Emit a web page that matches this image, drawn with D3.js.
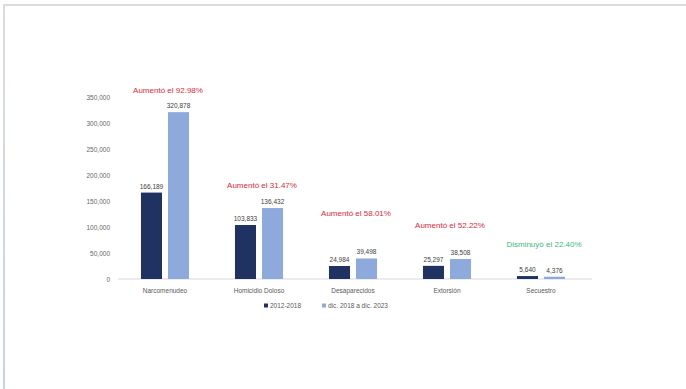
<!DOCTYPE html>
<html>
<head>
<meta charset="utf-8">
<script src="https://cdn.jsdelivr.net/npm/d3@7"></script>
<style>
  body { margin: 0; background: #fff; }
  svg { display: block; font-family: 'Liberation Sans', Arial, sans-serif; }
</style>
</head>
<body>
<div id="wrapper"></div>
<script>
const categories = ['Narcomenudeo', 'Homicidio Doloso', 'Desaparecidos', 'Extorsión', 'Secuestro']
const series = ['2012-2018', 'dic. 2018 a dic. 2023']
const values2012 = [166189, 103833, 24984, 25297, 5640]
const values2018 = [320878, 136432, 39498, 38508, 4376]
const changeLabels = ['Aumentó el 92.98%', 'Aumentó el 31.47%', 'Aumentó el 58.01%', 'Aumentó el 52.22%', 'Disminuyó el 22.40%']
const changeUp = [true, true, true, true, false]
const changeLevel = [363000, 181000, 127000, 104000, 67000]
const yTicks = [0, 50000, 100000, 150000, 200000, 250000, 300000, 350000]

function drawBars() {
  const dataset = categories.map((c, i) => ({
    category: c,
    values: [values2012[i], values2018[i]],
    change: changeLabels[i],
    up: changeUp[i],
    level: changeLevel[i],
  }))

  const dimensions = {
    width: 686,
    height: 389,
    margin: { top: 97, right: 98, bottom: 110, left: 118 },
  }
  dimensions.boundedWidth = dimensions.width - dimensions.margin.left - dimensions.margin.right
  dimensions.boundedHeight = dimensions.height - dimensions.margin.top - dimensions.margin.bottom

  const colors = ['#1f3262', '#8eaadc']

  const wrapper = d3.select('#wrapper')
    .append('svg')
    .attr('width', dimensions.width)
    .attr('height', dimensions.height)

  // frame
  const grad = wrapper.append('defs').append('linearGradient')
    .attr('id', 'edge').attr('x1', 0).attr('y1', 0).attr('x2', 0).attr('y2', 1)
  grad.append('stop').attr('offset', '0%').attr('stop-color', '#dcdcdc')
  grad.append('stop').attr('offset', '100%').attr('stop-color', '#c4d3f2')
  wrapper.append('line')
    .attr('x1', 3).attr('x2', 686).attr('y1', 5).attr('y2', 5)
    .attr('stroke', '#dcdcdc').attr('stroke-width', 2)
  wrapper.append('rect')
    .attr('x', 3).attr('y', 4).attr('width', 2).attr('height', 385)
    .attr('fill', 'url(#edge)')

  const bounds = wrapper.append('g')
    .attr('transform', `translate(${dimensions.margin.left},${dimensions.margin.top})`)

  const x0 = d3.scaleBand()
    .domain(categories)
    .range([0, dimensions.boundedWidth])

  const x1 = d3.scaleBand()
    .domain(series)
    .range([0, x0.bandwidth()])
    .paddingInner(0.222)
    .paddingOuter(0.85)

  const yScale = d3.scaleLinear()
    .domain([0, 350000])
    .range([dimensions.boundedHeight, 0])

  // y axis labels only
  const yAxis = bounds.append('g')
    .call(d3.axisLeft(yScale).tickValues(yTicks).tickFormat(d3.format(',')).tickSize(0).tickPadding(8))
  yAxis.select('.domain').remove()
  yAxis.selectAll('text')
    .attr('fill', '#666')
    .attr('font-size', 6.5)

  // baseline
  bounds.append('line')
    .attr('x1', 0).attr('x2', dimensions.boundedWidth + 4)
    .attr('y1', yScale(0)).attr('y2', yScale(0))
    .attr('stroke', '#d9d9d9').attr('stroke-width', 1)

  const groups = bounds.selectAll('.group')
    .data(dataset)
    .enter().append('g')
    .attr('transform', d => `translate(${x0(d.category)},0)`)

  groups.selectAll('rect')
    .data(d => d.values.map((v, i) => ({ key: series[i], value: v, i })))
    .enter().append('rect')
    .attr('x', d => x1(d.key))
    .attr('width', x1.bandwidth())
    .attr('y', d => yScale(d.value))
    .attr('height', d => yScale(0) - yScale(d.value))
    .attr('fill', d => colors[d.i])

  groups.selectAll('.val')
    .data(d => d.values.map((v, i) => ({ key: series[i], value: v })))
    .enter().append('text')
    .attr('x', d => x1(d.key) + x1.bandwidth() / 2)
    .attr('y', d => yScale(d.value) - 4)
    .attr('text-anchor', 'middle')
    .attr('fill', '#404040')
    .attr('font-size', 6.5)
    .text(d => d3.format(',')(d.value))

  groups.append('text')
    .attr('x', x0.bandwidth() / 2 + 3)
    .attr('y', d => yScale(d.level))
    .attr('dy', '0.35em')
    .attr('text-anchor', 'middle')
    .attr('fill', d => d.up ? '#e0283c' : '#3cb878')
    .attr('font-size', 8)
    .text(d => d.change)

  // category labels
  groups.append('text')
    .attr('x', x0.bandwidth() / 2)
    .attr('y', yScale(0) + 14)
    .attr('text-anchor', 'middle')
    .attr('fill', '#595959')
    .attr('font-size', 6.5)
    .text(d => d.category)

  // legend
  const legend = wrapper.append('g')
    .attr('transform', 'translate(264,306)')
  const legendX = [0, 58]
  series.forEach((s, i) => {
    legend.append('rect')
      .attr('x', legendX[i]).attr('y', -2.5)
      .attr('width', 4).attr('height', 4)
      .attr('fill', colors[i])
    legend.append('text')
      .attr('x', legendX[i] + 6).attr('y', 0)
      .attr('dy', '0.35em')
      .attr('fill', '#595959')
      .attr('font-size', 6.5)
      .text(s)
  })
}

drawBars()
</script>
</body>
</html>
